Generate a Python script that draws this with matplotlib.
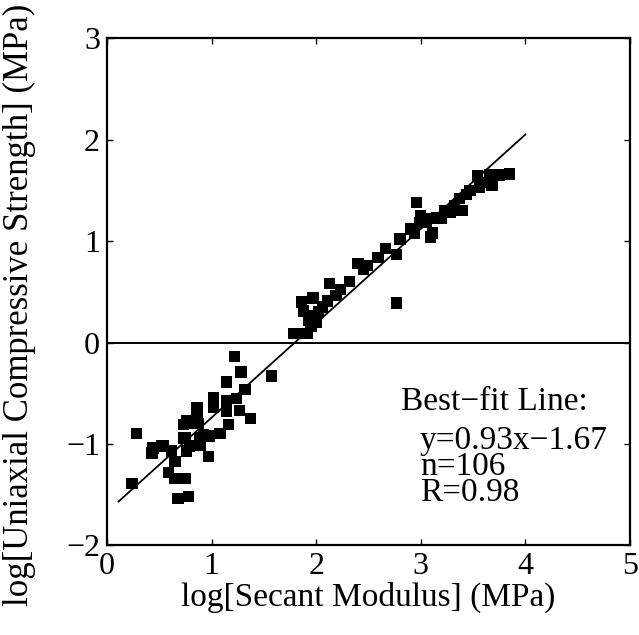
import matplotlib
matplotlib.use("Agg")
import matplotlib.pyplot as plt
import numpy as np

# ---- data ----
secant_modulus_log = [
    # lower cluster
    1.22, 1.28, 1.57, 1.14, 1.32, 1.02, 1.02, 1.14, 1.24, 0.86, 0.86, 1.27,
    1.37, 1.14, 1.16, 0.78, 0.87, 0.28, 1.08, 0.98, 0.75, 0.89, 0.79, 0.89,
    0.44, 0.54, 0.43, 0.62, 0.65, 0.76, 0.97, 0.59, 0.65, 0.75, 0.24, 0.68,
    0.78, 1.78, 0.73, 0.73, 0.52, 0.92, 0.76,
    # upper cluster
    3.85, 3.75, 3.66, 3.54, 3.68, 3.56, 3.44, 3.37, 3.32, 3.28, 3.40, 3.23,
    3.15, 3.09, 3.05, 2.99, 3.11, 3.09, 2.94, 2.80, 2.66, 2.77, 2.59, 2.49,
    2.40, 2.32, 2.13, 2.23, 2.19, 2.11, 2.06, 1.97, 1.86, 1.88, 1.97, 1.95,
    1.92, 1.81, 2.96, 2.77, 3.47, 3.62, 3.00, 2.90, 2.45, 2.02, 1.93, 2.00,
    3.35, 3.20,
]
ucs_log = [
    -0.14, -0.29, -0.33, -0.39, -0.46, -0.54, -0.64, -0.57, -0.55, -0.64, -0.72, -0.67,
    -0.75, -0.68, -0.81, -0.80, -0.80, -0.90, -0.90, -0.92, -0.94, -0.94, -1.02, -1.01,
    -1.04, -1.02, -1.09, -1.07, -1.17, -1.07, -1.12, -1.28, -1.34, -1.34, -1.39, -1.54,
    -1.52, 0.09, -0.81, -0.94, -1.02, -0.91, -0.77,
    1.66, 1.65, 1.65, 1.64, 1.55, 1.53, 1.46, 1.42, 1.35, 1.28, 1.30, 1.30,
    1.23, 1.22, 1.18, 1.18, 1.08, 1.04, 1.08, 1.02, 0.93, 0.87, 0.84, 0.76,
    0.78, 0.60, 0.58, 0.52, 0.46, 0.41, 0.35, 0.44, 0.40, 0.31, 0.26, 0.16,
    0.09, 0.09, 1.38, 0.39, 1.50, 1.58, 1.25, 1.12, 0.72, 0.30, 0.22, 0.20,
    1.30, 1.22,
]
fit_slope = 0.93
fit_intercept = -1.67
fit_x_range = [0.11, 4.0]
x_ticks = [0, 1, 2, 3, 4, 5]
y_ticks = [-2, -1, 0, 1, 2, 3]
annotation_title = "Best\u2212fit Line:"
annotation_lines = ["y=0.93x\u22121.67", "n=106", "R=0.98"]

plt.rcParams['font.family'] = ['Liberation Serif', 'DejaVu Serif']
plt.rcParams['axes.unicode_minus'] = True

fig = plt.figure(figsize=(6.39, 6.35), dpi=100)
ax = fig.add_axes([0.1674, 0.141, 0.8185, 0.799])

ax.scatter(secant_modulus_log, ucs_log, marker='s', s=66, c='black',
           edgecolors='none', zorder=3)

fx = np.array(fit_x_range)
ax.plot(fx, fit_slope * fx + fit_intercept, color='black', lw=1.3, zorder=2)
ax.axhline(0, color='black', lw=1.4, zorder=1)

ax.set_xlim(0, 5)
ax.set_ylim(-2, 3)
ax.set_xticks(x_ticks)
ax.set_yticks(y_ticks)
ax.set_xticklabels([str(v) for v in x_ticks])
ax.set_yticklabels([f"\u2212{abs(v)}" if v < 0 else str(v) for v in y_ticks])
ax.tick_params(direction='in', length=4, width=1, labelsize=23,
               top=True, right=True, pad=5)
for sp in ax.spines.values():
    sp.set_linewidth(1.6)

ax.set_xlabel("log[Secant Modulus] (MPa)", fontsize=24, labelpad=0)
ax.set_ylabel("log[Uniaxial Compressive Strength] (MPa)", fontsize=25)
ax.yaxis.set_label_coords(-0.135, 0.474)

ax.text(2.815, -0.583, annotation_title, fontsize=24, ha='left', va='center')
ax.text(2.99, -1.224, "\n".join(annotation_lines), fontsize=24, ha='left',
        va='center', linespacing=0.8)

fig.savefig("out.png", dpi=100)
